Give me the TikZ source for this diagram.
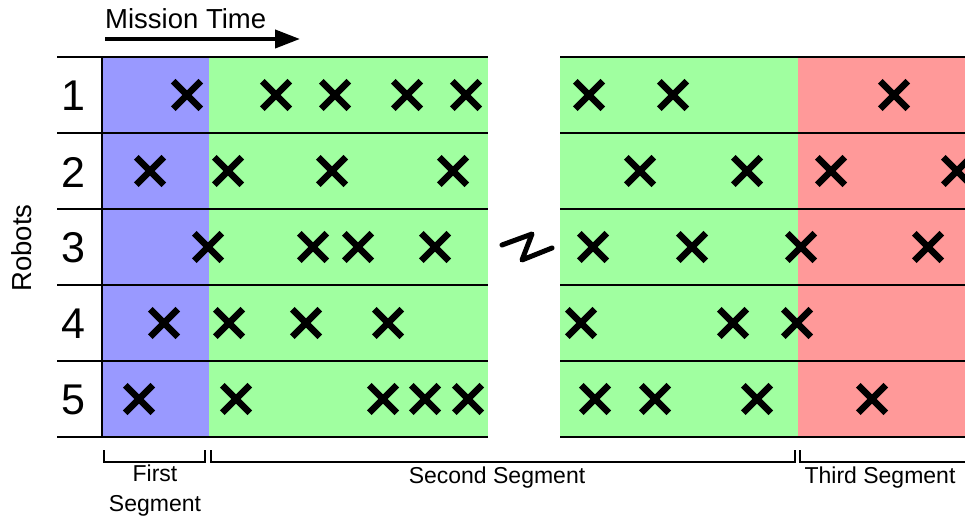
\documentclass[tikz,border=0pt]{standalone}
\usepackage{fontspec}
\setmainfont{Liberation Sans}
\usetikzlibrary{shapes.misc,arrows.meta}
\definecolor{segblue}{RGB}{153,153,255}
\definecolor{seggreen}{RGB}{160,255,160}
\definecolor{segred}{RGB}{255,153,153}
\begin{document}
\begin{tikzpicture}[x=1pt,y=-1pt,
  event/.style={cross out,draw=black,line width=6.5pt,minimum size=21pt,inner sep=0pt},
  rowline/.style={line width=2.2pt},
  bracket/.style={line width=2pt},
  rowlabel/.style={font=\fontsize{43}{48}\selectfont},
  seglabel/.style={font=\fontsize{23}{27}\selectfont,align=center,inner sep=0pt}]
\useasboundingbox (0,0) rectangle (965,518);
% segment backgrounds
\fill[segblue] (102,57) rectangle (209,437);
\fill[seggreen] (209,57) rectangle (488,437);
\fill[seggreen] (560,57) rectangle (798,437);
\fill[segred] (798,57) rectangle (965,437);
% row separators
\foreach \y in {57,133,209,285,361,437}{
  \draw[rowline] (57,\y) -- (488,\y);
  \draw[rowline] (560,\y) -- (965,\y);
}
\draw[rowline] (102,57) -- (102,437);
% row labels
\foreach \n/\y in {1/96,2/172,3/248,4/324,5/400}
  \node[rowlabel] (row\n) at (73,\y) {\n};
\node[rotate=90,font=\fontsize{27.5}{31}\selectfont] (robots) at (22,248) {Robots};
% mission time arrow
\node[anchor=south west,font=\fontsize{27.5}{31}\selectfont,inner sep=0pt] (mtime) at (105,29) {Mission Time};
\coordinate (tstart) at (105,39);
\coordinate (tend) at (300,39);
\draw[line width=4pt,-{Triangle[length=25pt,width=18pt]}] (tstart) -- (tend);
% events per robot
\foreach \x [count=\i] in {187,276,335,407,466,589,673,894}
  \node[event] (a\i) at (\x,95) {};
\foreach \x [count=\i] in {150,228,332,453,640,747,831,957}
  \node[event] (b\i) at (\x,171) {};
\foreach \x [count=\i] in {208,313,358,435,593,692,801,928}
  \node[event] (c\i) at (\x,247) {};
\foreach \x [count=\i] in {164,229,306,388,581,733,797}
  \node[event] (d\i) at (\x,323) {};
\foreach \x [count=\i] in {139,236,383,425,468,595,655,757,872}
  \node[event] (e\i) at (\x,399) {};
% axis break
\coordinate (z1) at (502,245);
\coordinate (z2) at (532,234);
\coordinate (z3) at (522,260);
\coordinate (z4) at (552,248);
\draw[line width=5pt,line cap=round,line join=round] (z1) -- (z2) -- (z3) -- (z4);
% segment brackets
\draw[bracket] (104,450) -- (104,462) -- (205,462) -- (205,450);
\draw[bracket] (211,450) -- (211,462) -- (795,462) -- (795,450);
\draw[bracket] (800,450) -- (800,462) -- (966,462);
\node[seglabel] (seg1) at (155,491) {First\\[3pt]Segment};
\node[seglabel] (seg2) at (497,478) {Second Segment};
\node[seglabel] (seg3) at (880,478) {Third Segment};
\end{tikzpicture}
\end{document}
